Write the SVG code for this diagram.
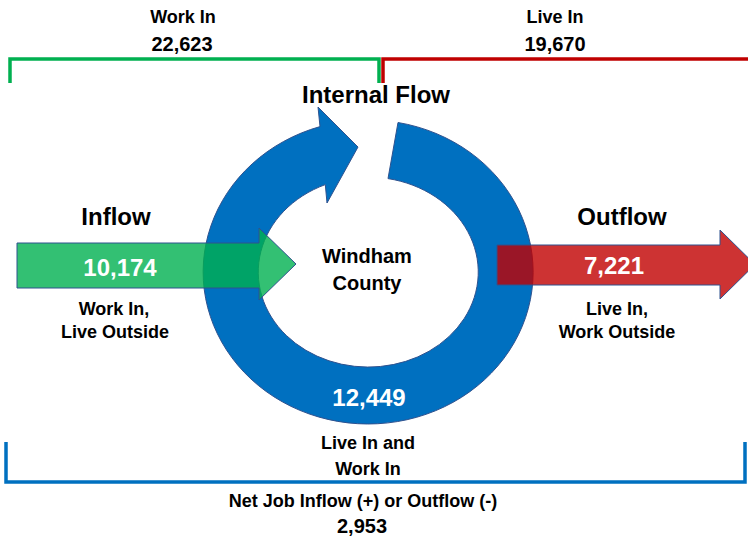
<svg xmlns="http://www.w3.org/2000/svg" width="748" height="541" viewBox="0 0 748 541">
<style>
text{font-family:"Liberation Sans",Arial,sans-serif;font-weight:bold;text-anchor:middle;fill:#000}
.t18{font-size:18px}
.t20{font-size:20px}
.t24{font-size:24px}
.w{fill:#fff}
.br{fill:none;stroke-width:3.5}
</style>
<rect width="748" height="541" fill="#fff"/>
<g id="work-in-bracket">
<path class="br" stroke="#00B050" d="M10 83 V59 H379 V83"/>
<text class="t18" x="183" y="23">Work In</text>
<text class="t20" x="182" y="51">22,623</text>
</g>
<g id="live-in-bracket">
<path class="br" stroke="#C00000" d="M383 83 V59 H748"/>
<text class="t18" x="555" y="23">Live In</text>
<text class="t20" x="555" y="51">19,670</text>
</g>
<g id="internal-flow">
<path fill="#0070C0" stroke="#2F528F" stroke-width="1" d="M398 122.5 A165 152 0 1 1 320 126.6 L318 107 L358 147 L327 203 L325.3 184.6 A110 95 0 1 0 388 178.6 Z"/>
<text class="t24" x="376" y="103">Internal Flow</text>
<text class="t24 w" x="369" y="406">12,449</text>
<text class="t18" x="368" y="449">Live In and</text>
<text class="t18" x="368" y="475">Work In</text>
</g>
<g id="county">
<text class="t20" x="367" y="263">Windham</text>
<text class="t20" x="367" y="290">County</text>
</g>
<g id="inflow">
<text class="t24" x="116" y="225">Inflow</text>
<path fill="#00B050" fill-opacity="0.8" stroke="#2F528F" stroke-width="1" d="M17 243 H259 V228 L296 264 L259 300 V288 H17 Z"/>
<text class="t24 w" x="120" y="276">10,174</text>
<text class="t18" x="114" y="315">Work In,</text>
<text class="t18" x="115" y="338">Live Outside</text>
</g>
<g id="outflow">
<text class="t24" x="622" y="225">Outflow</text>
<path fill="#C00000" fill-opacity="0.8" stroke="#2F528F" stroke-width="1" d="M497 245 H720 V230 L755 264.5 L720 299 V285 H497 Z"/>
<text class="t24 w" x="614" y="274">7,221</text>
<text class="t18" x="617" y="315">Live In,</text>
<text class="t18" x="617" y="338">Work Outside</text>
</g>
<g id="net-bracket">
<path class="br" stroke="#0070C0" d="M6 442 V482 H745 V442"/>
<text class="t18" x="363" y="507">Net Job Inflow (+) or Outflow (-)</text>
<text class="t20" x="362" y="533">2,953</text>
</g>
<g id="connectors"/>
</svg>
